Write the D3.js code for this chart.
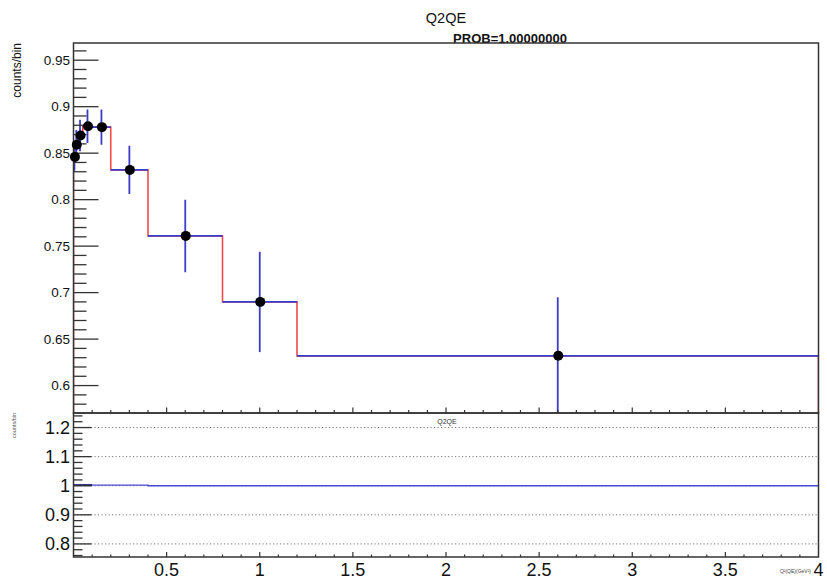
<!DOCTYPE html>
<html>
<head>
<meta charset="utf-8">
<script src="https://cdn.jsdelivr.net/npm/d3@7"></script>
<style>
  html, body { margin: 0; padding: 0; background: #fff; }
  svg { display: block; font-family: "Liberation Sans", Arial, Helvetica, sans-serif; }
</style>
</head>
<body>
<svg id="chart" width="827" height="579"></svg>
<script>
// ---- data ----
const binEdges = [0, 0.01, 0.02, 0.05, 0.1, 0.2, 0.4, 0.8, 1.2, 4.0];
const counts   = [0.846, 0.859, 0.869, 0.879, 0.878, 0.832, 0.761, 0.690, 0.632];
const errors   = [0.015, 0.016, 0.017, 0.018, 0.019, 0.026, 0.039, 0.054, 0.063];
const ratio    = [1.002, 1.002, 1.002, 1.002, 1.002, 1.002, 1.0, 1.0, 1.0];
const xTickLabels = [0.5, 1, 1.5, 2, 2.5, 3, 3.5, 4];
const yTopTicks = [0.6, 0.65, 0.7, 0.75, 0.8, 0.85, 0.9, 0.95];
const yBotTicks = [0.8, 0.9, 1, 1.1, 1.2];
const titleText = "Q2QE";
const probText = "PROB=1.00000000";
const yTitle = "counts/bin";
const xTitle = "Q²(QE)(GeV²)";

// ---- layout ----
const svg = d3.select("#chart");
const L = 73.5, R = 818.5;
const topT = 43, topB = 413, botT = 413, botB = 557;
const red = "#f24a4a", blue = "#3c3cc8", frame = "#333";

const x = d3.scaleLinear().domain([0, 4]).range([L, R]);
const yTop = d3.scaleLinear().domain([0.5705, 0.9685]).range([topB, topT]);
const yBot = d3.scaleLinear().domain([0.755, 1.25]).range([botB, botT]);

const bins = counts.map((v, i) => ({ x0: binEdges[i], x1: binEdges[i + 1], xc: (binEdges[i] + binEdges[i + 1]) / 2, v, e: errors[i], r: ratio[i] }));

svg.append("defs").append("clipPath").attr("id", "clipTop")
  .append("rect").attr("x", L).attr("y", topT).attr("width", R - L).attr("height", topB - topT);

// ---- titles ----
svg.append("text").attr("x", 446).attr("y", 23).attr("text-anchor", "middle")
  .attr("font-size", 14.5).attr("fill", "#111").text(titleText);
svg.append("text").attr("x", 510).attr("y", 42.5).attr("text-anchor", "middle")
  .attr("font-size", 13).attr("font-weight", "bold").attr("fill", "#111").text(probText);

// ---- top panel ----
const gTop = svg.append("g").attr("clip-path", "url(#clipTop)");

let pts = [[x(0), yTop(0.5)]];
bins.forEach(b => { pts.push([x(b.x0), yTop(b.v)]); pts.push([x(b.x1), yTop(b.v)]); });
pts.push([x(4), yTop(0.5)]);
gTop.append("path").attr("d", d3.line()(pts)).attr("fill", "none")
  .attr("stroke", red).attr("stroke-width", 1.6);

bins.forEach(b => {
  gTop.append("line").attr("x1", x(b.x0)).attr("x2", x(b.x1)).attr("y1", yTop(b.v)).attr("y2", yTop(b.v))
    .attr("stroke", blue).attr("stroke-width", 1.8);
  gTop.append("line").attr("x1", x(b.xc)).attr("x2", x(b.xc)).attr("y1", yTop(b.v - b.e)).attr("y2", yTop(b.v + b.e))
    .attr("stroke", blue).attr("stroke-width", 1.8);
});

// top y ticks
const gYT = svg.append("g");
d3.range(0, 41).forEach(i => {
  const v = Math.round((0.57 + i * 0.01) * 100) / 100;
  if (v < 0.5705 || v > 0.9685) return;
  const major = yTopTicks.some(t => Math.abs(t - v) < 1e-6);
  gYT.append("line").attr("x1", L).attr("x2", L + (major ? 25 : 13))
    .attr("y1", yTop(v)).attr("y2", yTop(v)).attr("stroke", frame).attr("stroke-width", 1.3);
});
yTopTicks.forEach(t => {
  gYT.append("text").attr("x", 70).attr("y", yTop(t) + 4.8).attr("text-anchor", "end")
    .attr("font-size", 13.5).attr("fill", "#111").text(d3.format("")(t));
});
d3.range(1, 40).forEach(i => {
  const v = i / 10;
  const major = i % 5 === 0;
  svg.append("line").attr("x1", x(v)).attr("x2", x(v)).attr("y1", topB).attr("y2", topB - (major ? 5.5 : 3))
    .attr("stroke", frame).attr("stroke-width", 1.2);
});
svg.append("text").attr("transform", `translate(21,${topT}) rotate(-90)`).attr("text-anchor", "end")
  .attr("font-size", 12).attr("fill", "#111").text(yTitle);

svg.append("rect").attr("x", L).attr("y", topT).attr("width", R - L).attr("height", topB - topT)
  .attr("fill", "none").attr("stroke", frame).attr("stroke-width", 1.5);

// markers drawn over frame
bins.forEach(b => {
  svg.append("circle").attr("cx", x(b.xc) + 0.5).attr("cy", yTop(b.v)).attr("r", 5).attr("fill", "#000");
});

// ---- bottom panel ----
yBotTicks.forEach(t => {
  svg.append("line").attr("x1", L).attr("x2", R).attr("y1", yBot(t)).attr("y2", yBot(t))
    .attr("stroke", "#777").attr("stroke-width", 1).attr("stroke-dasharray", "1.2,2.3");
});
let rpts = [];
bins.forEach(b => { rpts.push([x(b.x0), yBot(b.r)]); rpts.push([x(b.x1), yBot(b.r)]); });
svg.append("path").attr("d", d3.line()(rpts)).attr("fill", "none")
  .attr("stroke", "#4b4bd8").attr("stroke-width", 1.4);
bins.filter(b => b.x1 <= 0.1).forEach(b => {
  svg.append("line").attr("x1", x(b.x0)).attr("x2", x(b.x1)).attr("y1", yBot(b.r)).attr("y2", yBot(b.r))
    .attr("stroke", "#1e1e70").attr("stroke-width", 2);
});
d3.range(0, 26).forEach(i => {
  const v = Math.round((0.76 + i * 0.02) * 100) / 100;
  if (v < 0.755 || v > 1.25) return;
  const major = yBotTicks.some(t => Math.abs(t - v) < 1e-6);
  svg.append("line").attr("x1", L).attr("x2", L + (major ? 18 : 9))
    .attr("y1", yBot(v)).attr("y2", yBot(v)).attr("stroke", frame).attr("stroke-width", 1.3);
});
yBotTicks.forEach(t => {
  svg.append("text").attr("x", 70).attr("y", yBot(t) + 6.5).attr("text-anchor", "end")
    .attr("font-size", 18).attr("fill", "#111").text(d3.format("")(t));
});
d3.range(1, 40).forEach(i => {
  const v = i / 10;
  const major = i % 5 === 0;
  svg.append("line").attr("x1", x(v)).attr("x2", x(v)).attr("y1", botB).attr("y2", botB - (major ? 5 : 2.5))
    .attr("stroke", frame).attr("stroke-width", 1.2);
});
xTickLabels.forEach(t => {
  svg.append("text").attr("x", x(t)).attr("y", 575.5).attr("text-anchor", "middle")
    .attr("font-size", 18).attr("fill", "#111").text(d3.format("")(t));
});
svg.append("text").attr("x", 811).attr("y", 573).attr("text-anchor", "end")
  .attr("font-size", 5).attr("fill", "#444").text(xTitle);
svg.append("text").attr("x", 447).attr("y", 424).attr("text-anchor", "middle")
  .attr("font-size", 7).attr("fill", "#333").text(titleText);
svg.append("text").attr("transform", `translate(16,${botT}) rotate(-90)`).attr("text-anchor", "end")
  .attr("font-size", 5.5).attr("fill", "#555").text(yTitle);
svg.append("rect").attr("x", L).attr("y", botT).attr("width", R - L).attr("height", botB - botT)
  .attr("fill", "none").attr("stroke", frame).attr("stroke-width", 1.5);
</script>
</body>
</html>
